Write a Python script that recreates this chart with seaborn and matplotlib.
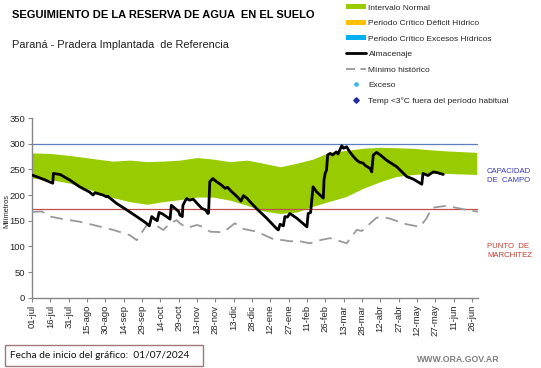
import numpy as np
import pandas as pd
import matplotlib
matplotlib.use("Agg")
import matplotlib.pyplot as plt
import seaborn as sns
from matplotlib.lines import Line2D
from matplotlib.patches import Patch, Rectangle

# ---------------- data ----------------
tick_labels = ["01-jul", "16-jul", "31-jul", "15-ago", "30-ago", "14-sep", "29-sep",
               "14-oct", "29-oct", "13-nov", "28-nov", "13-dic", "28-dic", "12-ene",
               "27-ene", "11-feb", "26-feb", "13-mar", "28-mar", "12-abr", "27-abr",
               "12-may", "27-may", "11-jun", "26-jun"]
tick_days = [0, 15, 30, 45, 60, 75, 90, 105, 120, 135, 150, 165, 180, 195, 210,
             225, 240, 255, 270, 285, 300, 315, 330, 345, 360]

band_days = [0, 15, 31, 53, 66, 80, 94, 107, 121, 135, 148, 162, 176, 189, 203,
             217, 230, 241, 244, 257, 271, 285, 298, 312, 326, 339, 364]
band_high = [282, 281, 277, 270, 266, 268, 265, 266, 268, 273, 270, 265, 268, 262, 255,
             262, 270, 281, 283, 287, 291, 293, 292, 291, 288, 286, 283]
band_low = [233, 230, 223, 206, 195, 187, 182, 187, 191, 196, 196, 190, 180, 169, 164,
            167, 178, 186, 188, 197, 213, 226, 236, 240, 242, 242, 240]

alm_days = [0, 10, 17, 17.5, 23, 31, 39, 47, 50, 51.5, 58, 61, 62, 69, 77.5, 85.7,
            92.5, 96, 98, 101, 102.5, 104, 107, 110, 113, 114, 116, 120, 121, 123,
            123.5, 125, 126.5, 129, 132, 135, 139, 142, 144, 144.5, 145.5, 148, 151,
            155, 158, 160, 163.4, 166, 169, 171, 173, 176, 178.4, 184, 192, 200, 201.6,
            203, 205.7, 207, 209, 211, 216.6, 225, 226, 228, 230, 233, 238.4, 239, 240,
            241, 242, 244, 246, 249, 250.5, 252, 253.5, 255, 257.5, 260, 263, 265.7,
            268, 271, 273, 276.6, 278, 279.3, 282, 285, 290, 298.5, 306.6, 312, 319,
            320, 324, 328.4, 331, 336.6]
alm_vals = [239, 230, 223, 242, 240, 229, 216, 206, 200, 204.5, 200, 196.5, 197.5, 184,
            171, 158, 147, 140, 158, 152, 150, 166, 163, 158, 153, 180, 176, 168, 161,
            158, 180, 187, 193, 190, 192, 184, 174, 171, 164, 165, 226, 232, 226, 219.5,
            213, 215, 206.5, 201, 194, 188, 198.7, 193.6, 187, 173, 155, 135, 132, 143,
            140, 158, 157, 164, 155, 138, 164, 166, 216, 206, 194, 230, 243, 248, 278,
            281, 278, 284, 280, 288, 296, 291, 294, 284, 275, 268, 264, 262, 257, 252,
            245, 278, 283, 278, 268, 255, 236, 231, 221, 242, 238, 245, 244, 240]

min_days = [0, 8, 15, 25.6, 39, 53, 66.5, 80, 85.7, 88.4, 94, 102, 107.5, 113, 118.4,
            121, 126.6, 135, 140, 145.7, 156.6, 166, 173, 184, 197.5, 205.7, 211, 219,
            227.5, 235.7, 244, 257.5, 265.7, 270, 282, 291.6, 306.6, 317.5, 323, 327,
            339, 347.6, 355.7, 365]
min_vals = [167, 168, 158, 153, 148, 140, 132, 122, 112, 122, 141.6, 140, 132, 145, 151,
            145, 136, 141.6, 138, 128.6, 127.4, 145, 134, 128.6, 114, 112, 110, 110,
            106, 112, 116, 106, 132, 130, 156, 155, 143, 138, 155, 175, 179, 175, 171,
            167.5]

capacidad_campo = 300
punto_marchitez = 172

# ---------------- style ----------------
sns.set_theme(style="white")
plt.rcParams['font.family'] = ['Liberation Sans', 'DejaVu Sans']

W, H = 541, 368
fig = plt.figure(figsize=(W / 100, H / 100), dpi=100)
ax = fig.add_axes([32 / W, 1 - 297.7 / H, (478 - 32) / W, (297.7 - 118) / H])

green = "#99CC00"
ax.fill_between(band_days, band_low, band_high, color=green, lw=0, zorder=1)

ax.axhline(capacidad_campo, color="#5B7FC0", lw=0.9, zorder=2)
ax.axhline(punto_marchitez, color="#C0504D", lw=0.9, zorder=2)

df_min = pd.DataFrame({"dia": min_days, "mm": min_vals})
df_alm = pd.DataFrame({"dia": alm_days, "mm": alm_vals})
sns.lineplot(data=df_min, x="dia", y="mm", ax=ax, color="#999999", lw=1.3,
             linestyle=(0, (7, 4)), zorder=3)
sns.lineplot(data=df_alm, x="dia", y="mm", ax=ax, color="black", lw=2.0, zorder=4)

ax.set_xlim(0, 365)
ax.set_ylim(0, 350)
ax.set_xticks(tick_days)
ax.set_xticklabels(tick_labels, rotation=90, fontsize=6.8)
ax.set_yticks(range(0, 351, 50))
ax.tick_params(axis="y", labelsize=6.8, length=3, width=0.8, color="#868686", pad=2)
ax.tick_params(axis="x", length=3, width=0.8, color="#868686", pad=2)
ax.tick_params(axis="both", which="major", bottom=True, left=True, direction="out")
ax.set_xlabel("")
ax.set_ylabel("")
for s in ["top", "right"]:
    ax.spines[s].set_visible(False)
for s in ["left", "bottom"]:
    ax.spines[s].set_color("#868686")
    ax.spines[s].set_linewidth(1.0)
ax.grid(False)

fig.text(7 / W, 1 - 211 / H, "Milímetros", rotation=90, fontsize=5.3,
         ha="center", va="center", color="#222222")

# titles
fig.text(12 / W, 1 - 15 / H, "SEGUIMIENTO DE LA RESERVA DE AGUA  EN EL SUELO",
         fontsize=8.0, fontweight="bold", ha="left", va="center", color="black")
fig.text(12 / W, 1 - 45 / H, "Paraná - Pradera Implantada  de Referencia",
         fontsize=7.9, ha="left", va="center", color="#222222")

# legend
handles = [
    Patch(facecolor=green, edgecolor="none"),
    Patch(facecolor="#FFC000", edgecolor="none"),
    Patch(facecolor="#00B0F0", edgecolor="none"),
    Line2D([], [], color="black", lw=2.0),
    Line2D([], [], color="#999999", lw=1.3, linestyle=(0, (5, 3))),
    Line2D([], [], color="#33BBEE", lw=0, marker="o", markersize=2.3),
    Line2D([], [], color="#1F2F9F", lw=0, marker="D", markersize=2.8),
]
labels = ["Intervalo Normal", "Periodo Crítico Déficit Hídrico",
          "Periodo Crítico Excesos Hídricos", "Almacenaje", "Mínimo histórico",
          "Exceso", "Temp <3°C fuera del período habitual"]
fig.legend(handles, labels, loc="upper left", bbox_to_anchor=(346 / W, 1 - 4 / H),
           frameon=False, fontsize=6, handlelength=2.4, handleheight=0.6,
           handletextpad=0.3, labelspacing=0.95, borderpad=0, borderaxespad=0)

# right annotations
fig.text(487 / W, 1 - 176 / H, "CAPACIDAD\nDE  CAMPO", fontsize=5.6, color="#3A3AB0",
         ha="left", va="center", linespacing=1.3)
fig.text(487 / W, 1 - 251 / H, "PUNTO  DE\nMARCHITEZ", fontsize=5.6, color="#C0392B",
         ha="left", va="center", linespacing=1.3)

# bottom box
fig.add_artist(Rectangle((5 / W, 1 - 366 / H), 198 / W, 21 / H, transform=fig.transFigure,
                         facecolor="white", edgecolor="#A07878", lw=1.0))
fig.text(10 / W, 1 - 355.5 / H, "Fecha de inicio del gráfico:  01/07/2024",
         fontsize=7.3, family=["Lato", "DejaVu Sans"], ha="left", va="center",
         color="#111111")
fig.text(500 / W, 1 - 360 / H, "WWW.ORA.GOV.AR", fontsize=6.3, fontweight="bold",
         color="#7F7F7F", ha="right", va="center")

fig.savefig("out.png", dpi=100)
